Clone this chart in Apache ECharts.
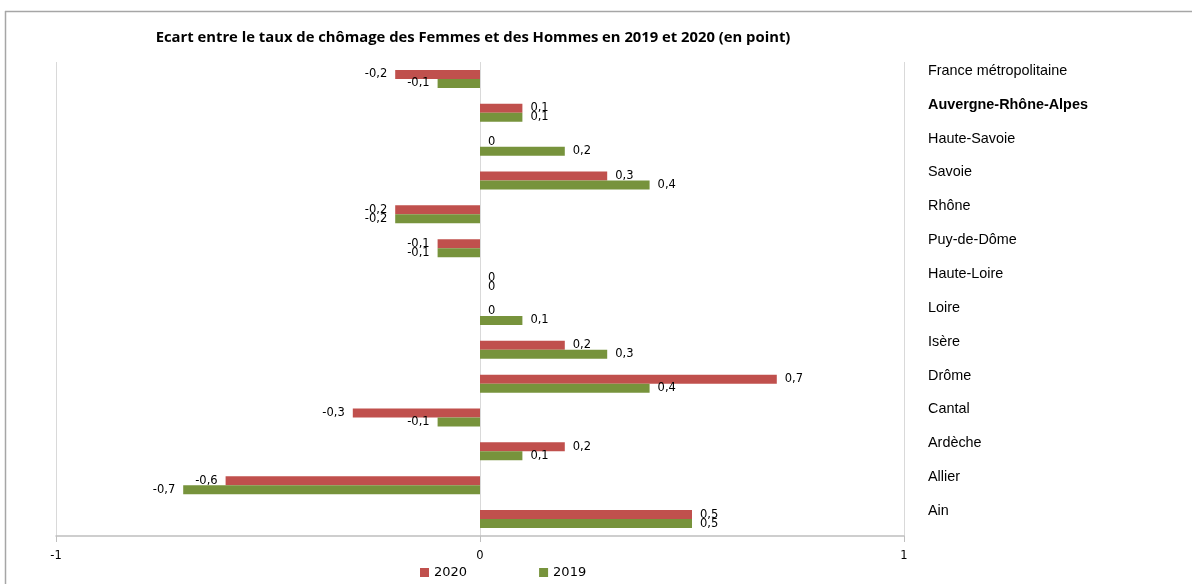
<!DOCTYPE html>
<html><head><meta charset="utf-8">
<script src="https://cdn.jsdelivr.net/npm/echarts@6/dist/echarts.min.js"></script>
<style>html,body{margin:0;padding:0;background:#fff}#c{width:1192px;height:584px}</style>
</head><body><div id="c"></div>
<script>
const categories = ['France métropolitaine','Auvergne-Rhône-Alpes','Haute-Savoie','Savoie','Rhône','Puy-de-Dôme','Haute-Loire','Loire','Isère','Drôme','Cantal','Ardèche','Allier','Ain'];
const values2020 = [-0.2, 0.1, 0, 0.3, -0.2, -0.1, 0, 0, 0.2, 0.7, -0.3, 0.2, -0.6, 0.5];
const values2019 = [-0.1, 0.1, 0.2, 0.4, -0.2, -0.1, 0, 0.1, 0.3, 0.4, -0.1, 0.1, -0.7, 0.5];
const xTicks = [-1, 0, 1];
const boldCategory = 'Auvergne-Rhône-Alpes';

const fmt = v => String(v).replace('.', ',');
function items(arr){
  return arr.map(v => ({value: v, label: {position: v < 0 ? 'left' : 'right'}}));
}
const labelStyle = {show: true, distance: 8, fontFamily: 'DejaVu Sans', fontSize: 11.5, color: '#000',
  formatter: p => fmt(p.value)};

const chart = echarts.init(document.getElementById('c'));
chart.setOption({
  animation: false,
  title: {text: 'Ecart entre le taux de chômage des Femmes et des Hommes en 2019 et 2020 (en point)',
    left: 468, textAlign: 'center', top: 25,
    textStyle: {fontFamily: 'Open Sans', fontWeight: 'bold', fontSize: 14.8, color: '#000'}},
  graphic: [
    {type: 'line', shape: {x1: 5, y1: 11.5, x2: 1192, y2: 11.5}, style: {stroke: '#a6a6a6', lineWidth: 1.5}},
    {type: 'line', shape: {x1: 5.5, y1: 11, x2: 5.5, y2: 584}, style: {stroke: '#a6a6a6', lineWidth: 1.5}}
  ],
  legend: {bottom: 0, left: 415, itemWidth: 9, itemHeight: 9, itemGap: 72, icon: 'rect',
    textStyle: {fontFamily: 'DejaVu Sans', fontSize: 13, color: '#000'},
    data: ['2020', '2019']},
  grid: {left: 56, right: 288, top: 62, bottom: 48},
  xAxis: {type: 'value', min: xTicks[0], max: xTicks[xTicks.length-1], interval: 1,
    axisLine: {show: true, lineStyle: {color: '#bfbfbf', width: 1.5}},
    axisTick: {show: true, length: 6, lineStyle: {color: '#bfbfbf'}},
    axisLabel: {margin: 14, fontFamily: 'DejaVu Sans', fontSize: 11.5, color: '#000', formatter: v => fmt(v)},
    splitLine: {show: true, lineStyle: {color: '#d9d9d9'}}},
  yAxis: {type: 'category', data: categories, inverse: true, position: 'right',
    axisLine: {show: false}, axisTick: {show: false},
    axisLabel: {margin: 24, align: 'left', fontFamily: 'Liberation Sans', fontSize: 14.4, color: '#000',
      padding: [0, 0, 16, 0],
      formatter: v => v === boldCategory ? '{b|' + v + '}' : v,
      rich: {b: {fontWeight: 'bold', fontFamily: 'Liberation Sans', fontSize: 14.4, color: '#000'}}}},
  series: [
    {name: '2020', type: 'bar', data: items(values2020), barWidth: 9, barGap: 0,
      itemStyle: {color: '#c0504d'}, label: labelStyle},
    {name: '2019', type: 'bar', data: items(values2019), barWidth: 9, barGap: 0,
      itemStyle: {color: '#77933c'}, label: labelStyle}
  ]
});
</script></body></html>
